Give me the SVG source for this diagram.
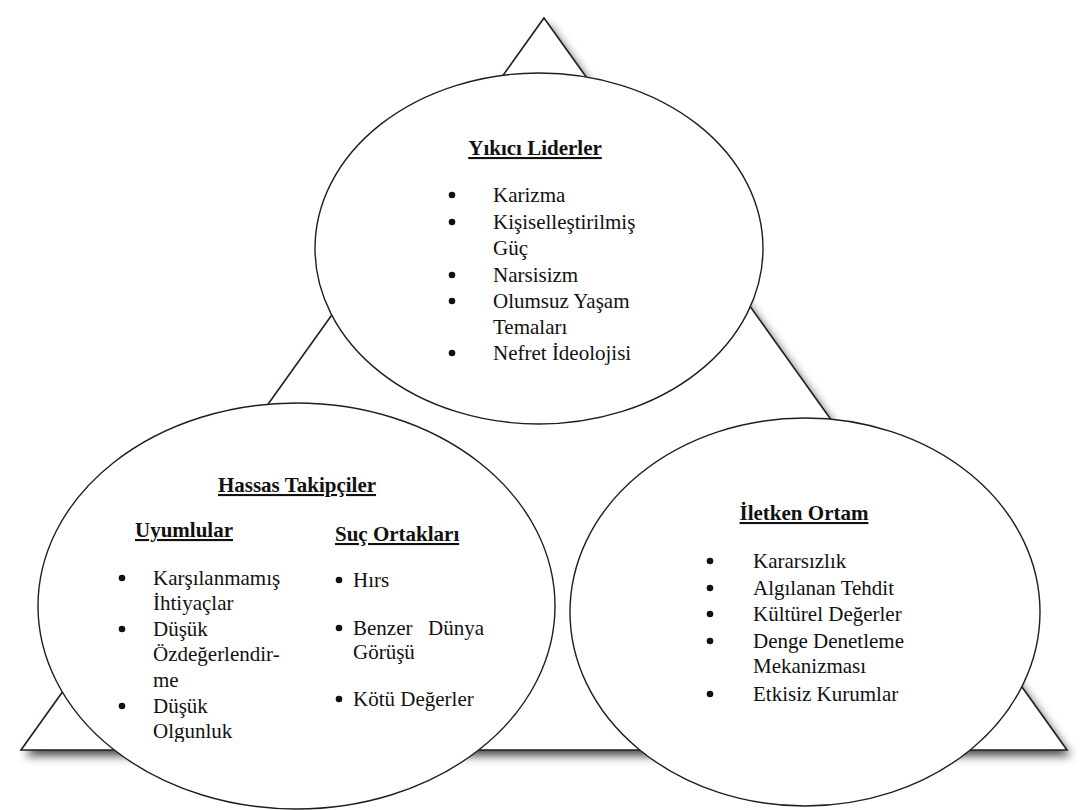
<svg xmlns="http://www.w3.org/2000/svg" width="1081" height="810" viewBox="0 0 1081 810">
  <defs>
    <filter id="blur5" x="-10%" y="-10%" width="120%" height="125%">
      <feGaussianBlur stdDeviation="5"/>
    </filter>
    <clipPath id="leftClip">
      <rect x="0" y="380" width="1081" height="362"/>
    </clipPath>
  </defs>

  <rect width="1081" height="810" fill="#fff"/>

  <!-- background triangle and its soft shadow -->
  <g id="frame">
    <polygon points="548,24 1071,756 25,756" fill="#000" fill-opacity="0.7" filter="url(#blur5)"/>
    <polygon points="544,18 1067,750 21,750" fill="#fff" stroke="#1e1e1e" stroke-width="1.6"/>
  </g>

  <!-- top: destructive leaders -->
  <g id="yikici-liderler" font-family="Liberation Serif, Times New Roman, serif" font-size="21" fill="#111">
    <ellipse cx="539" cy="248.5" rx="224" ry="175.5" fill="#fff" stroke="#1e1e1e" stroke-width="1.4"/>
    <text x="535" y="155" font-weight="bold" text-decoration="underline" text-anchor="middle">Yıkıcı Liderler</text>
    <circle cx="452" cy="195" r="3.3"/>
    <text x="493" y="202">Karizma</text>
    <circle cx="452" cy="222" r="3.3"/>
    <text x="493" y="229">Kişiselleştirilmiş</text>
    <text x="493" y="255">Güç</text>
    <circle cx="452" cy="275" r="3.3"/>
    <text x="493" y="282">Narsisizm</text>
    <circle cx="452" cy="301" r="3.3"/>
    <text x="493" y="308">Olumsuz Yaşam</text>
    <text x="493" y="334">Temaları</text>
    <circle cx="452" cy="353" r="3.3"/>
    <text x="493" y="360">Nefret İdeolojisi</text>
  </g>

  <!-- bottom left: susceptible followers -->
  <g id="hassas-takipciler" font-family="Liberation Serif, Times New Roman, serif" font-size="21" fill="#111">
    <ellipse cx="296.5" cy="606" rx="258.5" ry="203" fill="#fff" stroke="#1e1e1e" stroke-width="1.4"/>
    <text x="297" y="492" font-weight="bold" text-decoration="underline" text-anchor="middle">Hassas Takipçiler</text>
    <text x="135" y="537" font-weight="bold" text-decoration="underline">Uyumlular</text>
    <text x="335" y="541" font-weight="bold" text-decoration="underline">Suç Ortakları</text>
    <g clip-path="url(#leftClip)">
      <circle cx="122" cy="578" r="3.3"/>
      <text x="153" y="585">Karşılanmamış</text>
      <text x="153" y="610">İhtiyaçlar</text>
      <circle cx="122" cy="629" r="3.3"/>
      <text x="153" y="636">Düşük</text>
      <text x="153" y="661">Özdeğerlendir-</text>
      <text x="153" y="687">me</text>
      <circle cx="122" cy="706" r="3.3"/>
      <text x="153" y="713">Düşük</text>
      <text x="153" y="738">Olgunluk</text>
    </g>
    <circle cx="339" cy="580" r="3.3"/>
    <text x="353" y="587">Hırs</text>
    <circle cx="339" cy="628" r="3.3"/>
    <text x="353" y="635">Benzer</text>
    <text x="428" y="635">Dünya</text>
    <text x="353" y="659">Görüşü</text>
    <circle cx="339" cy="699" r="3.3"/>
    <text x="353" y="706">Kötü Değerler</text>
  </g>

  <!-- bottom right: conducive environment -->
  <g id="iletken-ortam" font-family="Liberation Serif, Times New Roman, serif" font-size="21" fill="#111">
    <ellipse cx="805" cy="612" rx="235" ry="194" fill="#fff" stroke="#1e1e1e" stroke-width="1.4"/>
    <text x="804" y="520" font-weight="bold" text-decoration="underline" text-anchor="middle">İletken Ortam</text>
    <circle cx="710" cy="561" r="3.3"/>
    <text x="753" y="568">Kararsızlık</text>
    <circle cx="710" cy="588" r="3.3"/>
    <text x="753" y="595">Algılanan Tehdit</text>
    <circle cx="710" cy="614" r="3.3"/>
    <text x="753" y="621">Kültürel Değerler</text>
    <circle cx="710" cy="641" r="3.3"/>
    <text x="753" y="648">Denge Denetleme</text>
    <text x="753" y="673">Mekanizması</text>
    <circle cx="710" cy="694" r="3.3"/>
    <text x="753" y="701">Etkisiz Kurumlar</text>
  </g>
</svg>
